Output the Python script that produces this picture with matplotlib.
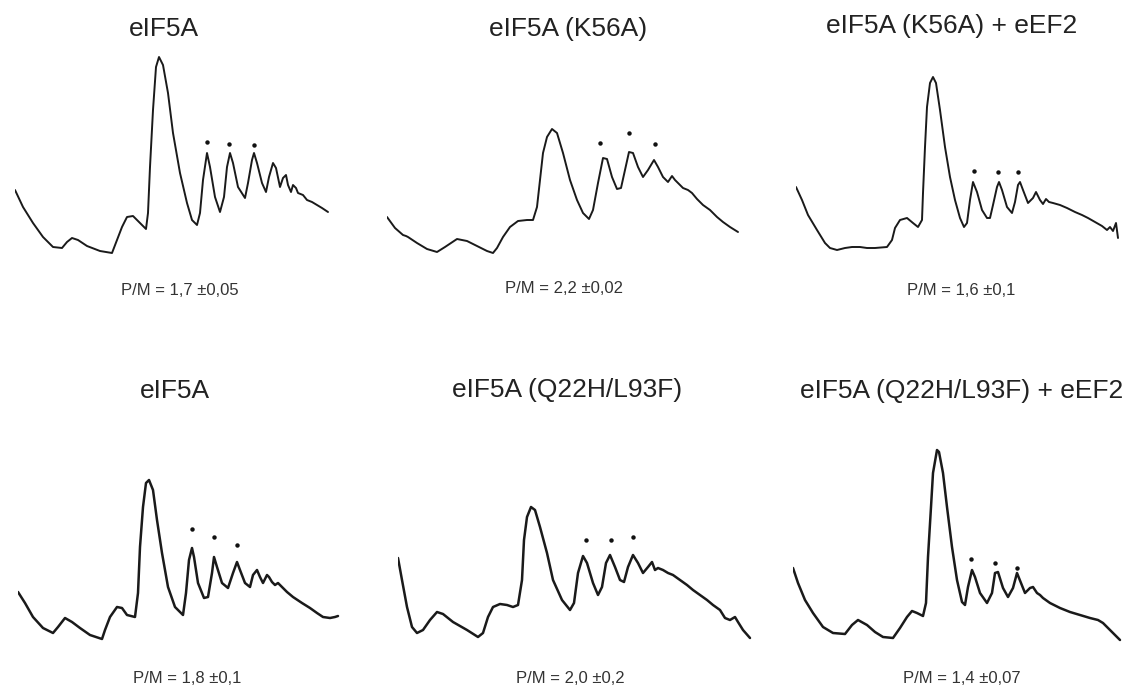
import matplotlib
matplotlib.use("Agg")
import matplotlib.pyplot as plt

# polysome profiles (x = gradient position, y = A254, arbitrary units)
titles = ["eIF5A", "eIF5A (K56A)", "eIF5A (K56A) + eEF2",
          "eIF5A", "eIF5A (Q22H/L93F)", "eIF5A (Q22H/L93F) + eEF2"]
pm_labels = ["P/M = 1,7 \u00b10,05", "P/M = 2,2 \u00b10,02", "P/M = 1,6 \u00b10,1",
             "P/M = 1,8 \u00b10,1", "P/M = 2,0 \u00b10,2", "P/M = 1,4 \u00b10,07"]

x1 = [0, 8, 18, 28, 38, 47, 52, 57, 63, 72, 85, 97, 102, 107, 112, 118, 125, 131, 133, 135,
      138, 141, 144, 148, 153, 158, 165, 172, 177, 182, 185, 188, 192, 195, 200, 205, 209, 212, 215, 218,
      223, 230, 233, 237, 239, 242, 247, 251, 254, 258, 261, 265, 268, 271, 273, 276, 278, 281, 283, 288,
      292, 297, 302, 307, 310, 313]
y1 = [65, 48, 32, 18, 8, 7, 13, 17, 15, 9, 4, 2, 15, 28, 38, 39, 32, 26, 42, 88,
      145, 188, 198, 190, 162, 122, 82, 52, 35, 30, 42, 75, 102, 88, 58, 43, 58, 88, 102, 92,
      68, 57, 72, 95, 102, 92, 72, 63, 78, 92, 87, 68, 77, 80, 70, 63, 70, 67, 62, 60,
      55, 53, 50, 47, 45, 43]

x2 = [0, 8, 16, 19, 21, 30, 40, 50, 58, 70, 80, 90, 100, 106, 110, 116, 123, 131, 140, 146,
      150, 153, 156, 160, 165, 170, 176, 183, 190, 196, 202, 206, 211, 216, 220, 225, 230, 234, 238, 242,
      246, 251, 256, 261, 267, 271, 276, 281, 285, 288, 291, 296, 301, 305, 310, 316, 323, 330, 336, 343,
      351]
y2 = [38, 27, 20, 19, 18, 12, 6, 3, 8, 16, 14, 9, 4, 2, 7, 18, 28, 34, 35, 35,
      48, 75, 102, 118, 126, 122, 102, 75, 55, 42, 36, 45, 72, 97, 96, 78, 66, 67, 85, 103,
      102, 88, 78, 85, 95, 88, 78, 73, 79, 75, 72, 67, 65, 62, 56, 50, 45, 38, 33, 28,
      23]

x3 = [0, 6, 12, 21, 29, 34, 41, 49, 56, 64, 71, 79, 91, 96, 99, 104, 111, 117, 122, 126,
      127, 129, 131, 134, 137, 140, 144, 149, 154, 159, 164, 168, 171, 174, 177, 181, 186, 191, 194, 197,
      201, 203, 206, 211, 216, 219, 222, 224, 227, 232, 237, 240, 244, 247, 250, 253, 257, 264, 271, 279,
      286, 292, 299, 306, 311, 314, 317, 320, 322]
y3 = [68, 55, 40, 25, 12, 7, 5, 7, 8, 8, 7, 7, 8, 15, 27, 35, 37, 32, 28, 35,
      62, 108, 148, 172, 178, 172, 145, 108, 78, 55, 37, 28, 32, 55, 73, 63, 45, 37, 37, 50,
      68, 73, 65, 48, 42, 53, 70, 73, 65, 52, 57, 63, 55, 51, 56, 53, 52, 50, 47, 43,
      40, 37, 33, 29, 25, 28, 24, 32, 17]

x4 = [0, 7, 15, 25, 35, 40, 47, 54, 62, 72, 84, 87, 92, 99, 104, 109, 117, 120, 122, 125,
      128, 131, 135, 139, 144, 150, 157, 165, 168, 171, 174, 176, 180, 186, 190, 194, 196, 199, 204, 210,
      215, 219, 222, 227, 232, 235, 239, 242, 245, 249, 251, 254, 257, 260, 264, 269, 275, 284, 292, 299,
      305, 312, 317, 320]
y4 = [50, 39, 25, 14, 9, 15, 24, 20, 14, 7, 3, 12, 25, 35, 34, 27, 25, 49, 95, 135,
      159, 162, 152, 122, 89, 55, 35, 27, 49, 82, 94, 85, 59, 44, 45, 69, 85, 75, 59, 54,
      69, 80, 72, 59, 55, 67, 72, 65, 59, 67, 65, 60, 57, 59, 55, 50, 45, 39, 34, 29,
      25, 24, 25, 26]

x5 = [0, 4, 9, 14, 19, 25, 32, 39, 45, 55, 69, 80, 85, 90, 95, 102, 109, 115, 120, 124,
      126, 129, 133, 137, 142, 149, 155, 164, 172, 176, 180, 185, 189, 195, 200, 204, 208, 212, 217, 222,
      226, 230, 235, 240, 245, 250, 254, 257, 260, 265, 270, 275, 282, 289, 295, 302, 309, 315, 322, 327,
      332, 337, 340, 345, 352]
y5 = [84, 62, 35, 15, 9, 12, 22, 30, 28, 20, 12, 5, 9, 25, 35, 38, 37, 35, 37, 62,
      102, 125, 135, 132, 115, 89, 62, 42, 32, 39, 69, 86, 79, 59, 47, 55, 79, 87, 75, 62,
      60, 75, 87, 79, 69, 75, 80, 72, 74, 72, 69, 67, 62, 57, 52, 47, 42, 37, 32, 24,
      22, 25, 20, 12, 4]

x6 = [0, 5, 12, 20, 30, 40, 52, 59, 65, 74, 82, 90, 100, 107, 114, 119, 124, 130, 133, 135,
      138, 140, 144, 146, 150, 154, 159, 164, 169, 172, 175, 179, 182, 187, 194, 199, 202, 205, 210, 215,
      220, 224, 228, 232, 237, 240, 244, 247, 250, 257, 267, 277, 287, 297, 305, 310, 317, 327]
y6 = [74, 59, 42, 29, 15, 9, 8, 17, 22, 17, 10, 5, 4, 14, 25, 31, 29, 26, 39, 85,
      135, 169, 192, 190, 169, 135, 95, 62, 40, 37, 55, 72, 65, 49, 39, 49, 69, 70, 54, 45,
      54, 69, 59, 49, 54, 55, 49, 47, 44, 39, 34, 30, 27, 24, 22, 19, 12, 2]

# asterisks over the first three polysome peaks
dots_x = [[192, 214, 239], [213, 242, 268], [178, 202, 222],
          [174, 196, 219], [188, 213, 235], [178, 202, 224]]
dots_y = [[113, 111, 110], [112, 122, 111], [84, 83, 83],
          [113, 105, 97], [102, 102, 105], [83, 79, 74]]

traces = [(x1, y1), (x2, y2), (x3, y3), (x4, y4), (x5, y5), (x6, y6)]

# layout (pixels in the 1137x688 figure)
W, H = 1137, 688
origins = [(15, 255), (387, 255), (796, 255), (18, 642), (398, 642), (793, 642)]
title_pos = [(164, 36), (568, 36), (952, 33), (175, 398), (567, 397), (962, 398)]  # baselines
pm_pos = [(180, 295), (564, 293), (961, 295), (187, 683), (570, 683), (962, 683)]
line_w = [1.4, 1.4, 1.4, 1.8, 1.8, 1.8]
box_w, box_h = 360, 215

plt.rcParams['font.family'] = ['Liberation Sans', 'DejaVu Sans']
fig = plt.figure(figsize=(W / 100, H / 100), dpi=100)

for i, (xs, ys) in enumerate(traces):
    ox, oy = origins[i]
    ax = fig.add_axes([ox / W, (H - oy) / H, box_w / W, box_h / H])
    ax.plot(xs, ys, color="#1a1a1a", lw=line_w[i], solid_joinstyle="round", solid_capstyle="round")
    ax.plot(dots_x[i], dots_y[i], "o", color="#111111", ms=3.2, mec="none")
    ax.set_xlim(0, box_w)
    ax.set_ylim(0, box_h)
    ax.axis("off")

    tx, ty = title_pos[i]
    fig.text(tx / W, 1 - ty / H, titles[i], ha="center", va="baseline", fontsize=19, color="#222222")
    px, py = pm_pos[i]
    fig.text(px / W, 1 - py / H, pm_labels[i], ha="center", va="baseline", fontsize=12, color="#333333")

fig.savefig("out.png", dpi=100, facecolor="white")
